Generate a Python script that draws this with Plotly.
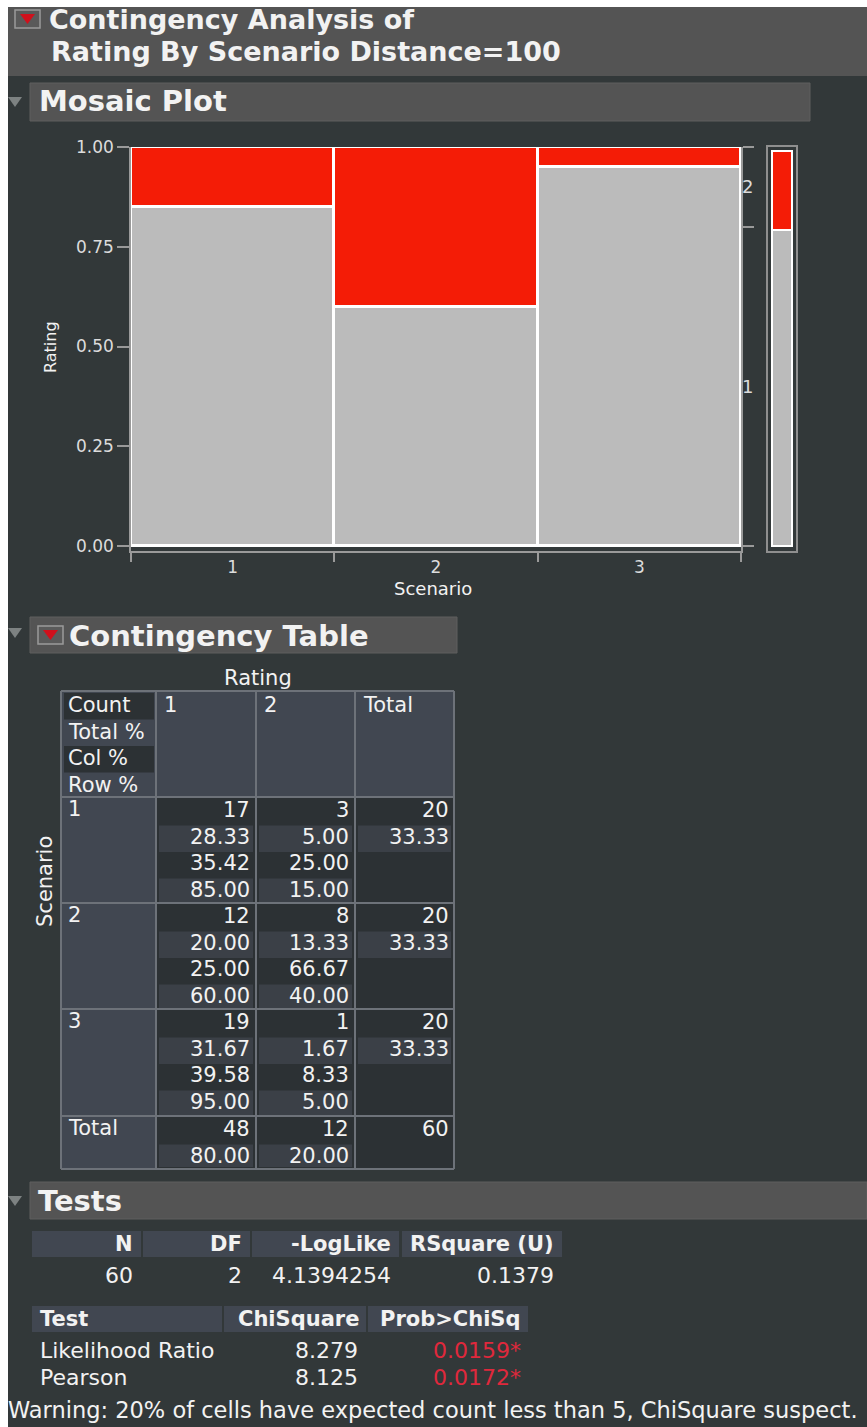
import plotly.graph_objects as go

W, H = 867, 1427

# ---------------- data ----------------
scenarios = ["1", "2", "3"]
rating_levels = ["1", "2"]
count = [[17, 3, 20], [12, 8, 20], [19, 1, 20]]
total_pct = [[28.33, 5.00, 33.33], [20.00, 13.33, 33.33], [31.67, 1.67, 33.33]]
col_pct = [[35.42, 25.00], [25.00, 66.67], [39.58, 8.33]]
row_pct = [[85.00, 15.00], [60.00, 40.00], [95.00, 5.00]]
col_totals = [48, 12, 60]
col_total_pct = [80.00, 20.00]

summary_headers = ["N", "DF", "-LogLike", "RSquare (U)"]
summary_values = ["60", "2", "4.1394254", "0.1379"]
test_names = ["Likelihood Ratio", "Pearson"]
chisq = ["8.279", "8.125"]
prob = ["0.0159*", "0.0172*"]
warning = "Warning: 20% of cells have expected count less than 5, ChiSquare suspect."

# ---------------- styles ----------------
BG = "#323839"
BAR = "#545454"
SLATE = "#414751"
DARK = "#2c3134"
LIGHT = "#3b4047"
GRID = "#6d7279"
TXT = "#f2f2f2"
RED = "#f41c06"
GRAY = "#bbbbbb"
AX = "#9a9a9a"
FONT = "DejaVu Sans"


def X(p):
    return p / W


def Y(p):
    return 1 - p / H


shapes = []
annotations = []


def rect(x0, y0, x1, y1, fill, line=None, lw=0):
    shapes.append(dict(type="rect", xref="paper", yref="paper",
                       x0=X(x0), x1=X(x1), y0=Y(y1), y1=Y(y0),
                       fillcolor=fill, line=dict(color=line or fill, width=lw),
                       layer="below"))


def line(x0, y0, x1, y1, color=GRID, lw=2):
    shapes.append(dict(type="line", xref="paper", yref="paper",
                       x0=X(x0), x1=X(x1), y0=Y(y0), y1=Y(y1),
                       line=dict(color=color, width=lw), layer="below"))


def tri(pts, fill):
    d = "M " + " L ".join(f"{X(a)},{Y(b)}" for a, b in pts) + " Z"
    shapes.append(dict(type="path", xref="paper", yref="paper", path=d,
                       fillcolor=fill, line=dict(width=0), layer="above"))


def text(x, y, s, size=21, color=TXT, bold=False, anchor="left", angle=0):
    annotations.append(dict(x=X(x), y=Y(y), xref="paper", yref="paper",
                            text=s, showarrow=False, xanchor=anchor, yanchor="middle",
                            textangle=angle,
                            font=dict(family=FONT, size=size, color=color,
                                      weight="bold" if bold else "normal")))


def icon(x0, y0):
    rect(x0, y0, x0 + 25, y0 + 18, "#5a5a5a", "#9a9a9a", 1.5)
    tri([(x0 + 5, y0 + 4), (x0 + 20, y0 + 4), (x0 + 12.5, y0 + 14)], "#d0101c")


def disclosure(y):
    tri([(8, y), (22, y), (15, y + 10)], "#7d8282")


# white frame edges
rect(0, 0, W, 7, "white")
rect(0, 0, 8, H, "white")

# title bar
rect(8, 7, W, 76, BAR)
icon(15, 10)
text(47, 20, "Contingency Analysis of", 27, bold=True)
text(49, 51, "Rating By Scenario Distance=100", 27, bold=True)

# mosaic section bar
rect(30, 83, 810, 121, BAR, "#5e5e5e", 1)
disclosure(97)
text(37, 101, "Mosaic Plot", 29, bold=True)

# ---------------- mosaic plot ----------------
fig = go.Figure()
fig.add_trace(go.Bar(x=scenarios, y=[r[0] / 100 for r in row_pct], width=1,
                     marker=dict(color=GRAY, line=dict(color="white", width=3)),
                     xaxis="x", yaxis="y", showlegend=False, hoverinfo="skip"))
fig.add_trace(go.Bar(x=scenarios, y=[r[1] / 100 for r in row_pct], width=1,
                     marker=dict(color=RED, line=dict(color="white", width=3)),
                     xaxis="x", yaxis="y", showlegend=False, hoverinfo="skip"))
# invisible traces to activate right-hand axes
fig.add_trace(go.Scatter(x=scenarios, y=[None, None, None], xaxis="x", yaxis="y2",
                         showlegend=False, hoverinfo="skip"))
fig.add_trace(go.Scatter(x=scenarios, y=[None, None, None], xaxis="x", yaxis="y4",
                         showlegend=False, hoverinfo="skip"))
# marginal bar
fig.add_trace(go.Bar(x=["all"], y=[col_total_pct[0] / 100], width=0.72,
                     marker=dict(color=GRAY, line=dict(color="white", width=2.5)),
                     xaxis="x3", yaxis="y3", showlegend=False, hoverinfo="skip"))
fig.add_trace(go.Bar(x=["all"], y=[col_total_pct[1] / 100], width=0.72,
                     marker=dict(color=RED, line=dict(color="white", width=2.5)),
                     xaxis="x3", yaxis="y3", showlegend=False, hoverinfo="skip"))

ydom = [Y(551), Y(147)]
yr = [-0.0125, 1.0]
text(51, 347, "Rating", 16, angle=-90, anchor="center")
text(433, 588, "Scenario", 18, anchor="center")

# ---------------- contingency table ----------------
rect(30, 617, 457, 653, BAR, "#5e5e5e", 1)
disclosure(628)
icon(38, 626)
text(67, 636, "Contingency Table", 29, bold=True)
text(258, 678, "Rating", 21, anchor="center")
text(45, 882, "Scenario", 21, angle=-90, anchor="center")

cx = [61, 156, 256, 355, 454]
ry = [691, 797, 903, 1009, 1116, 1169]
P = 26.5

# header row
rect(cx[0], ry[0], cx[4], ry[1], SLATE)
for k in (0, 2):
    rect(cx[0] + 3, ry[0] + 2 + k * P, cx[1] - 2, ry[0] + 2 + (k + 1) * P, DARK)
for k, lab in enumerate(["Count", "Total %", "Col %", "Row %"]):
    text(66, ry[0] + 14 + k * P, lab, 21)
for j, lab in enumerate(rating_levels + ["Total"]):
    text(cx[j + 1] + 6, ry[0] + 14, lab, 21)

# scenario rows
for i, sc in enumerate(scenarios):
    top = ry[i + 1]
    rect(cx[0], top, cx[1], ry[i + 2], SLATE)
    rect(cx[1], top, cx[4], ry[i + 2], DARK)
    text(66, top + 12, sc, 21)
    for j in range(2):
        for k in (1, 3):
            rect(cx[j + 1] + 3, top + 2 + k * P, cx[j + 2] - 3, top + 2 + (k + 1) * P, LIGHT)
        vals = [str(count[i][j]), f"{total_pct[i][j]:.2f}", f"{col_pct[i][j]:.2f}",
                f"{row_pct[i][j]:.2f}"]
        for k, v in enumerate(vals):
            text(cx[j + 2] - 4, top + 13 + k * P, v, 21, anchor="right")
    rect(cx[3] + 3, top + 2 + P, cx[4] - 3, top + 2 + 2 * P, LIGHT)
    text(cx[4] - 3, top + 13, str(count[i][2]), 21, anchor="right")
    text(cx[4] - 3, top + 13 + P, f"{total_pct[i][2]:.2f}", 21, anchor="right")

# total row
top = ry[4]
rect(cx[0], top, cx[1], ry[5], SLATE)
rect(cx[1], top, cx[4], ry[5], DARK)
text(66, top + 12, "Total", 21)
for j in range(2):
    rect(cx[j + 1] + 3, top + 2 + P, cx[j + 2] - 3, ry[5] - 2, LIGHT)
    text(cx[j + 2] - 4, top + 13, str(col_totals[j]), 21, anchor="right")
    text(cx[j + 2] - 4, top + 13 + P, f"{col_total_pct[j]:.2f}", 21, anchor="right")
text(cx[4] - 3, top + 13, str(col_totals[2]), 21, anchor="right")

for x in cx:
    line(x, ry[0], x, ry[-1])
for y in ry:
    line(cx[0], y, cx[-1], y)

# ---------------- tests ----------------
rect(30, 1182, W, 1219, BAR, "#5e5e5e", 1)
disclosure(1196)
text(36, 1201, "Tests", 29, bold=True)

t1 = [(32, 141), (143, 250), (252, 399), (402, 562)]
for (a, b), hd, v in zip(t1, summary_headers, summary_values):
    rect(a, 1231, b, 1257, SLATE)
    text(b - 6, 1244, hd, 21, bold=True, anchor="right")
    text(b - 6, 1275, v, 22, anchor="right")

t2 = [(32, 222), (224, 366), (368, 528)]
for (a, b) in t2:
    rect(a, 1306, b, 1332, SLATE)
text(38, 1319, "Test", 21, bold=True)
text(t2[1][1] - 5, 1319, "ChiSquare", 21, bold=True, anchor="right")
text(t2[2][1] - 5, 1319, "Prob>ChiSq", 21, bold=True, anchor="right")
for i, nm in enumerate(test_names):
    yy = 1350 + i * 27
    text(38, yy, nm, 22)
    text(t2[1][1] - 6, yy, chisq[i], 22, anchor="right")
    text(t2[2][1] - 5, yy, prob[i], 22, color="#e0283c", anchor="right")

text(6, 1410, warning, 22.5)

tickfont = dict(family=FONT, size=17, color="#dcdcdc")
fig.update_layout(
    width=W, height=H, margin=dict(l=0, r=0, t=0, b=0, pad=0, autoexpand=False),
    paper_bgcolor=BG, plot_bgcolor="rgba(0,0,0,0)",
    barmode="stack", bargap=0, showlegend=False,
    shapes=shapes, annotations=annotations,
    xaxis=dict(domain=[X(131), X(741)], type="category", range=[-0.5, 2.5],
               tickson="boundaries", ticks="outside", ticklen=9, tickcolor=AX, tickwidth=1.5,
               showline=True, linecolor=AX, linewidth=1.5, showgrid=False, zeroline=False,
               tickfont=tickfont, anchor="y", fixedrange=True, automargin=False),
    yaxis=dict(domain=ydom, range=yr, tickvals=[0, 0.25, 0.5, 0.75, 1.0],
               ticktext=["0.00", "0.25", "0.50", "0.75", "1.00"],
               ticks="outside", ticklen=12, tickcolor=AX, tickwidth=1.5,
               showline=True, linecolor=AX, linewidth=1.5, showgrid=False, zeroline=False,
               tickfont=tickfont, anchor="x", fixedrange=True, automargin=False),
    yaxis2=dict(domain=ydom, range=yr, overlaying="y", side="right", anchor="x",
                tickvals=[0, 0.8, 1.0], ticktext=["", "", ""], ticks="outside",
                ticklen=11, tickcolor=AX, tickwidth=1.5, showline=True, linecolor=AX,
                linewidth=1.5, showgrid=False, zeroline=False, fixedrange=True,
                automargin=False),
    yaxis4=dict(domain=ydom, range=yr, overlaying="y", side="right", anchor="x",
                tickvals=[0.4, 0.9], ticktext=rating_levels, ticks="",
                showline=False, showgrid=False, zeroline=False,
                tickfont=dict(family=FONT, size=18, color="#dcdcdc"),
                fixedrange=True, automargin=False),
    xaxis3=dict(domain=[X(768), X(796)], range=[-0.5, 0.5], anchor="y3",
                showticklabels=False, ticks="", showline=True, mirror=True,
                linecolor="#8f8f8f", linewidth=1.5, showgrid=False, zeroline=False,
                fixedrange=True, automargin=False),
    yaxis3=dict(domain=ydom, range=[-0.0125, 1.01], anchor="x3",
                showticklabels=False, ticks="", showline=True, mirror=True,
                linecolor="#8f8f8f", linewidth=1.5, showgrid=False, zeroline=False,
                fixedrange=True, automargin=False),
)

fig.write_html(
    "out.html",
    config={"displayModeBar": False},
    post_script="document.documentElement.style.margin='0';"
                "document.body.style.margin='0';document.body.style.padding='0';"
                "document.body.style.overflow='hidden';",
)
